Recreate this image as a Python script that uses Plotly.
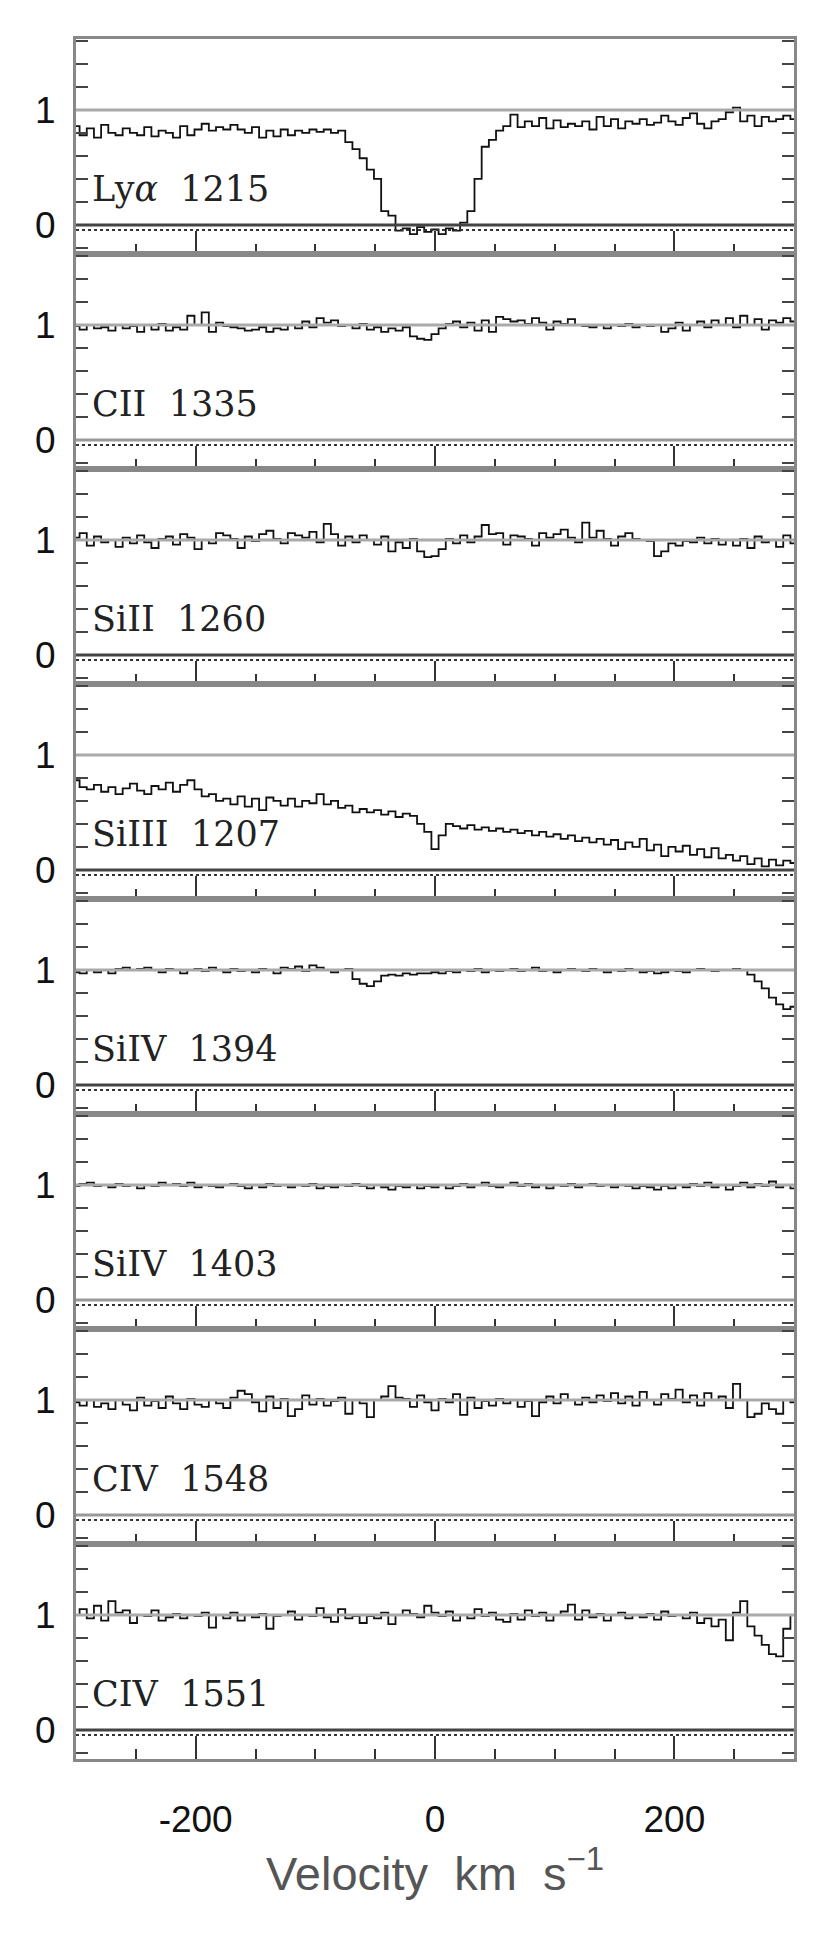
import plotly.graph_objects as go
from plotly.subplots import make_subplots

# velocity grid (km/s), bin centres
VELOCITY = list(range(-300, 301, 6))

X_TICK_VALUES = [-200, 0, 200]
X_TICK_TEXT = ["-200", "0", "200"]

LABELS = ["Ly<i>α</i>\u00a0\u00a01215", "CII\u00a0\u00a01335", "SiII\u00a0\u00a01260",
          "SiIII\u00a0\u00a01207", "SiIV\u00a0\u00a01394", "SiIV\u00a0\u00a01403",
          "CIV\u00a0\u00a01548", "CIV\u00a0\u00a01551"]

LYA_1215 = [0.86, 0.78, 0.84, 0.76, 0.87, 0.80, 0.78, 0.84, 0.80, 0.78,
            0.85, 0.77, 0.82, 0.80, 0.76, 0.86, 0.78, 0.83, 0.88, 0.82,
            0.85, 0.83, 0.87, 0.83, 0.80, 0.85, 0.76, 0.82, 0.77, 0.83,
            0.78, 0.82, 0.80, 0.83, 0.81, 0.83, 0.80, 0.82,
            0.72, 0.66, 0.58, 0.48, 0.40, 0.12, 0.08, -0.05, -0.03, -0.08, -0.02, -0.06,
            -0.04, -0.08, -0.03, -0.05, 0.02, 0.12, 0.40, 0.68, 0.74, 0.82, 0.86, 0.96,
            0.85, 0.90, 0.86, 0.93, 0.84, 0.91, 0.85, 0.88, 0.86, 0.90,
            0.83, 0.94, 0.86, 0.92, 0.84, 0.90, 0.88, 0.92, 0.87, 0.89,
            0.95, 0.90, 0.87, 0.93, 0.97, 0.88, 0.84, 0.90, 0.92, 0.98,
            1.02, 0.90, 0.95, 0.86, 0.94, 0.90, 0.92, 0.95, 0.92]

CII_1335 = [0.99, 0.96, 1.00, 0.97, 0.98, 0.95, 1.00, 0.97, 0.99, 0.94,
            1.00, 0.96, 1.01, 0.95, 0.98, 0.96, 1.08, 1.00, 1.11, 0.94,
            1.02, 0.99, 0.98, 0.97, 0.95, 0.96, 0.98, 0.94, 0.97, 0.96,
            1.00, 0.97, 1.03, 0.98, 1.06, 1.02, 1.04, 0.99, 1.00, 0.97,
            1.01, 0.96, 0.98, 0.94, 0.97, 0.95, 0.98, 0.90, 0.88, 0.87,
            0.92, 0.97, 1.01, 1.03, 0.98, 1.02, 0.95, 1.04, 0.94, 1.07,
            1.05, 1.03, 1.04, 1.01, 1.06, 1.02, 0.96, 1.03, 1.01, 1.05,
            1.00, 0.99, 0.98, 1.00, 0.97, 1.00, 0.99, 1.01, 0.98, 1.00,
            0.99, 1.00, 0.94, 0.97, 1.02, 0.95, 1.00, 1.03, 0.98, 1.04,
            1.00, 1.06, 0.98, 1.08, 1.00, 1.05, 0.96, 1.04, 1.02, 1.06, 1.03]

SIII_1260 = [1.02, 1.06, 0.95, 1.03, 0.98, 1.00, 0.94, 1.02, 0.97, 1.04,
             0.98, 0.93, 1.01, 1.03, 0.96, 1.05, 1.02, 0.92, 1.00, 0.97,
             1.06, 1.04, 1.01, 0.93, 1.03, 0.99, 1.05, 1.08, 1.01, 0.97,
             1.06, 1.04, 1.02, 1.07, 0.98, 1.14, 1.05, 0.95, 1.03, 0.98,
             1.04, 1.00, 0.96, 1.03, 0.90, 0.98, 0.93, 1.01, 0.90, 0.85,
             0.86, 0.92, 1.01, 0.97, 1.04, 0.98, 1.03, 1.13, 1.05, 1.06,
             0.96, 1.04, 1.03, 1.01, 0.95, 1.06, 1.02, 1.05, 1.09, 1.02,
             0.98, 1.15, 1.02, 1.08, 1.01, 0.95, 1.03, 1.06, 1.01, 1.00,
             0.99, 0.86, 0.90, 0.97, 0.95, 0.99, 0.98, 1.02, 0.97, 1.01,
             0.96, 1.00, 0.95, 1.01, 0.93, 1.03, 0.98, 1.00, 0.94, 1.04, 0.97]

SIIII_1207 = [0.78, 0.72, 0.70, 0.74, 0.68, 0.72, 0.66, 0.71, 0.75, 0.69,
              0.66, 0.73, 0.70, 0.76, 0.68, 0.74, 0.78, 0.70, 0.64, 0.66,
              0.60, 0.62, 0.57, 0.64, 0.55, 0.62, 0.52, 0.63, 0.60, 0.56,
              0.62, 0.55, 0.60, 0.58, 0.66, 0.57, 0.60, 0.54, 0.56, 0.50,
              0.53, 0.50, 0.52, 0.48, 0.51, 0.46, 0.49, 0.47, 0.40, 0.33,
              0.18, 0.30, 0.40, 0.38, 0.36, 0.39, 0.35, 0.37, 0.34, 0.36,
              0.33, 0.35, 0.32, 0.34, 0.30, 0.33, 0.29, 0.31, 0.27, 0.30,
              0.25, 0.28, 0.24, 0.27, 0.22, 0.26, 0.18, 0.24, 0.20, 0.27,
              0.17, 0.22, 0.12, 0.20, 0.16, 0.21, 0.13, 0.18, 0.11, 0.19,
              0.10, 0.13, 0.08, 0.12, 0.05, 0.10, 0.03, 0.09, 0.04, 0.08, 0.06]

SIIV_1394 = [0.98, 0.97, 1.00, 0.98, 1.00, 0.97, 1.01, 1.02, 1.00, 1.01,
             1.02, 1.00, 0.98, 1.01, 1.00, 0.97, 1.00, 1.01, 0.99, 1.02,
             1.00, 0.98, 1.01, 0.99, 1.00, 0.98, 1.01, 1.00, 0.97, 1.02,
             1.01, 1.03, 0.99, 1.04, 1.02, 1.00, 0.98, 1.00, 1.01, 0.92,
             0.88, 0.86, 0.90, 0.95, 0.96, 0.95, 0.97, 0.96, 0.97, 0.97,
             0.98, 0.97, 0.99, 0.98, 1.00, 0.99, 1.01, 0.98, 1.00, 0.99,
             1.00, 1.01, 0.99, 1.00, 1.02, 0.99, 1.00, 0.98, 1.00, 1.01,
             1.00, 0.99, 1.01, 1.00, 0.98, 1.00, 0.99, 1.01, 1.00, 0.98,
             0.99, 0.97, 0.98, 1.00, 0.99, 0.98, 1.00, 1.01, 1.00, 0.99,
             1.00, 1.00, 1.01, 1.00, 0.96, 0.90, 0.84, 0.76, 0.70, 0.66, 0.68]

SIIV_1403 = [0.99, 1.01, 1.02, 0.99, 1.00, 0.98, 1.01, 0.99, 1.00, 0.97,
             1.00, 0.99, 1.02, 1.00, 1.01, 0.99, 1.02, 0.98, 1.00, 0.99,
             0.98, 1.00, 1.01, 0.99, 0.97, 1.00, 0.98, 1.01, 0.99, 1.00,
             0.98, 1.00, 0.99, 1.01, 0.97, 0.99, 0.98, 1.00, 0.99, 1.01,
             0.99, 0.97, 1.00, 0.98, 0.96, 0.99, 0.98, 1.00, 0.97, 0.99,
             0.98, 1.00, 0.97, 0.99, 1.01, 0.98, 1.00, 1.02, 0.99, 0.98,
             1.00, 1.02, 0.99, 1.01, 0.98, 1.00, 0.97, 1.00, 0.99, 1.01,
             0.98, 1.00, 1.01, 0.99, 1.00, 0.98, 1.00, 0.99, 0.97, 0.99,
             0.98, 0.96, 0.99, 0.97, 1.00, 0.98, 1.01, 0.99, 1.02, 0.98,
             1.00, 0.96, 0.99, 1.02, 0.98, 1.01, 0.99, 1.03, 0.98, 1.00, 0.97]

CIV_1548 = [0.98, 0.95, 1.00, 0.94, 0.97, 0.92, 1.00, 0.96, 0.91, 1.02,
            0.95, 0.99, 0.93, 1.03, 0.97, 0.92, 1.01, 0.96, 0.94, 1.00,
            0.97, 0.93, 1.02, 1.08, 1.05, 0.98, 0.90, 1.03, 0.93, 1.01,
            0.86, 0.92, 1.04, 0.96, 1.01, 0.95, 0.99, 1.02, 0.88, 1.00,
            0.97, 0.85, 1.00, 1.03, 1.12, 1.02, 1.01, 0.94, 1.04, 0.98,
            0.91, 1.01, 0.98, 1.05, 0.87, 1.02, 0.93, 0.99, 0.95, 1.01,
            0.97, 1.00, 0.94, 0.99, 0.86, 0.98, 1.03, 0.97, 1.05, 1.00,
            0.96, 1.02, 0.98, 1.04, 0.99, 1.06, 0.97, 1.03, 0.95, 1.07,
            1.00, 0.96, 1.05, 1.01, 1.09, 0.98, 1.04, 0.95, 1.06, 1.00,
            1.03, 0.93, 1.14, 1.00, 0.85, 0.88, 0.97, 0.92, 0.88, 1.00, 0.98]

CIV_1551 = [1.00, 1.05, 0.97, 1.08, 0.95, 1.12, 1.02, 1.04, 0.93, 1.00,
            0.99, 1.04, 0.95, 0.98, 1.01, 0.97, 1.00, 0.99, 1.02, 0.89,
            1.00, 0.97, 1.02, 0.95, 1.00, 0.98, 1.01, 0.88, 0.99, 1.00,
            1.03, 0.96, 1.00, 0.99, 1.06, 0.98, 0.94, 1.05, 0.97, 0.99,
            0.93, 0.99, 0.97, 1.02, 0.92, 1.00, 1.04, 1.01, 0.98, 1.08,
            1.02, 0.99, 1.03, 0.95, 1.00, 0.97, 1.05, 0.99, 1.02, 0.96,
            0.94, 1.01, 0.96, 1.04, 0.99, 1.02, 0.95, 1.00, 1.03, 1.09,
            0.96, 1.04, 0.98, 1.01, 0.95, 1.00, 1.02, 0.97, 1.00, 0.98,
            1.01, 0.96, 1.03, 0.99, 1.00, 0.97, 1.02, 0.93, 0.97, 0.90,
            0.96, 0.78, 1.02, 1.12, 0.90, 0.82, 0.74, 0.66, 0.64, 0.88, 1.00]

SPECTRA = [LYA_1215, CII_1335, SIII_1260, SIIII_1207, SIIV_1394, SIIV_1403, CIV_1548, CIV_1551]
ZERO_DARK = [True, False, True, True, True, False, False, True]

for s in SPECTRA:
    assert len(s) == len(VELOCITY), len(s)

N = len(SPECTRA)
fig = make_subplots(rows=N, cols=1, shared_xaxes=True, vertical_spacing=0)

YR = [-0.253, 1.617]
for i, (flux, lab) in enumerate(zip(SPECTRA, LABELS)):
    r = i + 1
    fig.add_trace(go.Scatter(x=VELOCITY, y=flux, mode="lines",
                             line=dict(shape="hvh", color="#111111", width=1.8),
                             showlegend=False, hoverinfo="skip"), row=r, col=1)
    fig.add_hline(y=1, line=dict(color="#aaaaaa", width=3), row=r, col=1)
    fig.add_hline(y=0, line=dict(color="#444444" if ZERO_DARK[i] else "#999999", width=3), row=r, col=1)
    fig.add_hline(y=-0.045, line=dict(color="#333333", width=2, dash="dot"), row=r, col=1)
    fig.add_annotation(x=-288, y=0.31, xref=f"x{r}" if r > 1 else "x", yref=f"y{r}" if r > 1 else "y",
                       text=lab, showarrow=False, xanchor="left", yanchor="middle",
                       font=dict(family="DejaVu Serif", size=35, color="#222222"))
    fig.update_yaxes(range=YR, row=r, col=1, tickmode="linear", tick0=0, dtick=1,
                     ticks="inside", ticklen=12, tickwidth=2, tickcolor="#444444",
                     minor=dict(dtick=0.2, tick0=0, ticks="inside", ticklen=12, tickwidth=2, tickcolor="#444444"),
                     showline=True, linecolor="#888888", linewidth=3, mirror="ticks",
                     showgrid=False, zeroline=False,
                     tickfont=dict(family="Liberation Sans", size=37, color="#111111"),
                     ticklabelstandoff=10)
    fig.update_xaxes(range=[-300, 300], row=r, col=1, tickmode="array",
                     tickvals=X_TICK_VALUES, ticktext=X_TICK_TEXT,
                     ticks="inside", ticklen=23, tickwidth=2, tickcolor="#333333",
                     minor=dict(dtick=50, tick0=0, ticks="inside", ticklen=10, tickwidth=2, tickcolor="#333333"),
                     showline=True, linecolor="#888888", linewidth=3, mirror=True,
                     showgrid=False, zeroline=False,
                     tickfont=dict(family="Liberation Sans", size=37, color="#111111"),
                     ticklabelstandoff=26)

fig.update_xaxes(row=N, col=1,
                 title=dict(text="Velocity\u00a0\u00a0km\u00a0\u00a0s<sup>−1</sup>",
                            font=dict(family="Liberation Sans", size=47, color="#555555"),
                            standoff=12))

fig.update_layout(width=830, height=1941, margin=dict(l=68, r=44, t=31, b=190),
                  paper_bgcolor="white", plot_bgcolor="white")

fig.write_html("out.html")
